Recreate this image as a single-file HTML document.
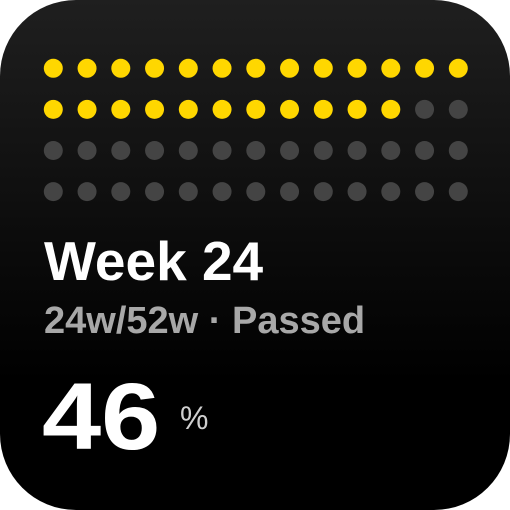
<!DOCTYPE html>
<html><head><meta charset="utf-8"><style>
html,body{margin:0;padding:0;background:#fff;}
#card{position:absolute;left:0;top:0;width:510px;height:510px;border-radius:76px;background:linear-gradient(#1f1f1f,#000 75%);overflow:hidden;font-family:"Liberation Sans",sans-serif;}
.t{position:absolute;white-space:nowrap;font-weight:bold;line-height:1;}
</style></head><body>
<div id="card">
<svg id="dots" width="510" height="230" style="position:absolute;left:0;top:0"></svg>
<div class="t" style="left:44px;top:234px;font-size:55px;color:#fff;">Week 24</div>
<div class="t" style="left:44px;top:302px;font-size:38px;color:#a8a8a8;">24w/52w · Passed</div>
<div class="t" style="left:42px;top:370px;font-size:95px;color:#fff;transform:scaleX(1.12);transform-origin:left top;">46</div>
<div class="t" style="left:180px;top:402px;font-size:32px;color:#cfcfcf;font-weight:normal;">%</div>
</div>
<script>
const totalWeeks = 52;
const passedWeeks = 24;
const columns = 13;
const svg = document.getElementById('dots');
const x0 = 53.3, dx = 33.75, y0 = 68.3, dy = 41.1, r = 9.5;
for (let i = 0; i < totalWeeks; i++) {
  const c = document.createElementNS('http://www.w3.org/2000/svg', 'circle');
  c.setAttribute('cx', x0 + (i % columns) * dx);
  c.setAttribute('cy', y0 + Math.floor(i / columns) * dy);
  c.setAttribute('r', r);
  c.setAttribute('fill', i < passedWeeks ? '#ffd700' : '#444444');
  
  
  svg.appendChild(c);
}
</script>
</body></html>
